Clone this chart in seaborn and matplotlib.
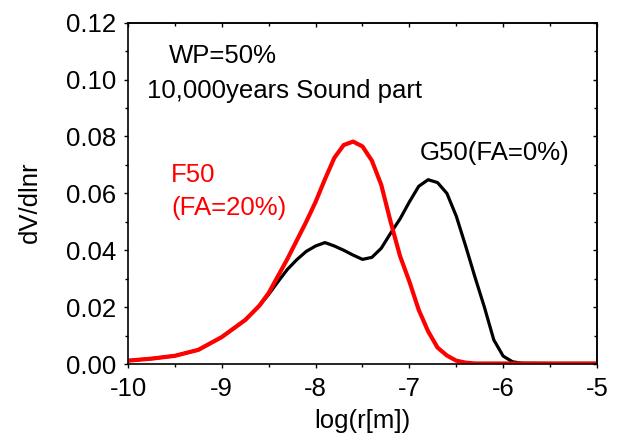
import numpy as np
import pandas as pd
import matplotlib
matplotlib.use("Agg")
import matplotlib.pyplot as plt
from matplotlib.ticker import MultipleLocator, FormatStrFormatter
import seaborn as sns

# G50 (FA=0%) - black
g50_x = [-10.0, -9.75, -9.5, -9.25, -9.0, -8.75, -8.6, -8.5, -8.4, -8.3, -8.2, -8.1,
         -8.0, -7.9, -7.8, -7.7, -7.6, -7.5, -7.4, -7.3, -7.2, -7.1, -7.0, -6.9,
         -6.8, -6.7, -6.6, -6.5, -6.4, -6.3, -6.2, -6.1, -6.0, -5.9, -5.8, -5.5, -5.0]
g50_y = [0.0012, 0.0019, 0.0029, 0.0050, 0.0095, 0.0155, 0.0205, 0.0245, 0.0290, 0.0333,
         0.0367, 0.0396, 0.0415, 0.0427, 0.0415, 0.0400, 0.0383, 0.0368, 0.0375, 0.0407,
         0.0460, 0.0510, 0.0570, 0.0625, 0.0648, 0.0638, 0.0600, 0.0520, 0.0415, 0.0305,
         0.0200, 0.0085, 0.0028, 0.0008, 0.0003, 0.0002, 0.0002]

# F50 (FA=20%) - red
f50_x = [-10.0, -9.75, -9.5, -9.25, -9.0, -8.75, -8.6, -8.5, -8.4, -8.3, -8.2, -8.1,
         -8.0, -7.9, -7.8, -7.7, -7.6, -7.5, -7.4, -7.3, -7.2, -7.1, -7.0, -6.9,
         -6.8, -6.7, -6.6, -6.5, -6.4, -6.3, -6.0, -5.0]
f50_y = [0.0012, 0.0019, 0.0029, 0.0050, 0.0095, 0.0155, 0.0205, 0.0250, 0.0310, 0.0370,
         0.0435, 0.0500, 0.0570, 0.0650, 0.0725, 0.0770, 0.0782, 0.0765, 0.0715, 0.0630,
         0.0500, 0.0380, 0.0290, 0.0190, 0.0115, 0.0058, 0.0030, 0.0012, 0.0005, 0.0002,
         0.0002, 0.0002]

x_ticks = [-10, -9, -8, -7, -6, -5]

sns.set_theme(style="ticks")
plt.rcParams['font.family'] = ['Liberation Sans', 'DejaVu Sans']
plt.rcParams['text.color'] = 'black'
plt.rcParams['axes.labelcolor'] = 'black'
plt.rcParams['xtick.color'] = 'black'
plt.rcParams['ytick.color'] = 'black'

df_g = pd.DataFrame({"x": g50_x, "y": g50_y})
df_f = pd.DataFrame({"x": f50_x, "y": f50_y})

fig = plt.figure(figsize=(6.17, 4.36), dpi=100)
ax = fig.add_axes([0.2075, 0.165, 0.76, 0.783])

sns.lineplot(data=df_g, x="x", y="y", color="black", linewidth=2.3, ax=ax, sort=False)
sns.lineplot(data=df_f, x="x", y="y", color="#ff0000", linewidth=3.0, ax=ax, sort=False)

ax.set_xlim(-10, -5)
ax.set_ylim(0, 0.12)
ax.set_xticks(x_ticks)
ax.set_xticklabels([str(t) for t in x_ticks])
ax.xaxis.set_minor_locator(MultipleLocator(0.5))
ax.yaxis.set_major_locator(MultipleLocator(0.02))
ax.yaxis.set_minor_locator(MultipleLocator(0.01))
ax.yaxis.set_major_formatter(FormatStrFormatter('%.2f'))

fs = 18.5
ax.tick_params(axis='both', which='major', labelsize=fs, length=3, width=1, color='black',
               labelcolor='black')
ax.tick_params(axis='x', which='major', pad=6)
ax.tick_params(axis='y', which='major', pad=5.5)
ax.tick_params(axis='both', which='minor', length=2.5, width=1, color='black')
# mirrored inward ticks on top/right
secx = ax.secondary_xaxis('top')
secx.set_xticks(x_ticks)
secx.xaxis.set_minor_locator(MultipleLocator(0.5))
secx.tick_params(which='both', direction='in', labeltop=False, length=3, width=1)
secx.tick_params(which='minor', length=2.5)
secy = ax.secondary_yaxis('right')
secy.yaxis.set_major_locator(MultipleLocator(0.02))
secy.yaxis.set_minor_locator(MultipleLocator(0.01))
secy.tick_params(which='both', direction='in', labelright=False, length=3, width=1)
secy.tick_params(which='minor', length=2.5)

for s in ax.spines.values():
    s.set_color('black')
    s.set_linewidth(1.2)

ax.set_xlabel("log(r[m])", fontsize=fs, labelpad=6, color='black')
ax.set_ylabel("dV/dlnr", fontsize=fs, color='black')
ax.yaxis.set_label_coords(-0.183, 0.475)

ax.text(-9.563, 0.1058, "WP=50%", fontsize=fs, color='black', va='baseline', ha='left')
ax.text(-9.797, 0.0935, "10,000years Sound part", fontsize=fs, color='black', va='baseline', ha='left')
ax.text(-9.54, 0.064, "F50", fontsize=fs, color='#ff0000', va='baseline', ha='left')
ax.text(-9.54, 0.0524, "(FA=20%)", fontsize=fs, color='#ff0000', va='baseline', ha='left')
ax.text(-6.89, 0.0718, "G50(FA=0%)", fontsize=fs, color='black', va='baseline', ha='left')

fig.savefig("out.png", dpi=100)
